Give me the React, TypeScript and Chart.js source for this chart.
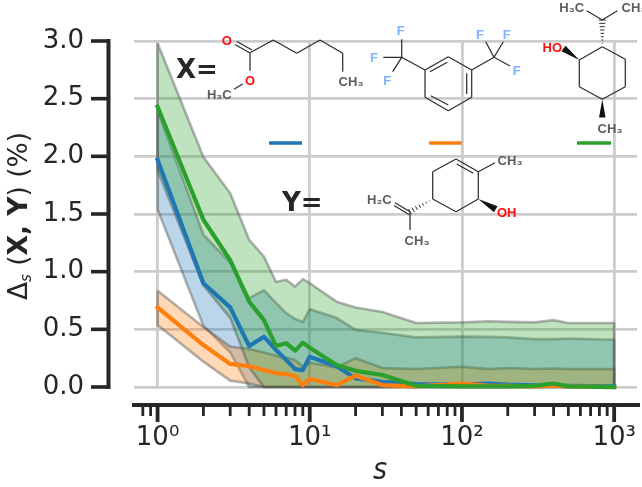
import React, { useEffect, useRef } from "react";
import { Chart, registerables } from "chart.js";

Chart.register(...registerables);

const sizes = [1, 2, 3, 4, 5, 6, 7, 8, 9, 10, 15, 20, 30, 50, 100, 150, 200, 300, 400, 500, 1000];
const blueMean = [1.97, 0.9, 0.69, 0.355, 0.436, 0.32, 0.235, 0.155, 0.147, 0.263, 0.18, 0.075, 0.045, 0.025, 0.02, 0.03, 0.02, 0.015, 0.01, 0.01, 0.005];
const blueUpper = [2.4, 1.32, 1.08, 0.77, 0.84, 0.73, 0.64, 0.59, 0.565, 0.675, 0.6, 0.495, 0.47, 0.43, 0.437, 0.435, 0.43, 0.415, 0.415, 0.42, 0.41];
const blueLower = [1.54, 0.53, 0.3, 0, 0, 0, 0, 0, 0, 0, 0, 0, 0, 0, 0, 0, 0, 0, 0, 0, 0];
const orangeMean = [0.69, 0.364, 0.2, 0.18, 0.147, 0.12, 0.11, 0.095, 0.017, 0.07, 0.017, 0.098, 0.017, 0.005, 0.03, 0.01, 0.01, 0.005, 0.012, 0.005, 0];
const orangeUpper = [0.835, 0.52, 0.35, 0.33, 0.3, 0.27, 0.255, 0.235, 0.176, 0.21, 0.17, 0.25, 0.164, 0.156, 0.176, 0.155, 0.165, 0.156, 0.16, 0.155, 0.155];
const orangeLower = [0.537, 0.22, 0.055, 0.03, 0, 0, 0, 0, 0, 0, 0, 0, 0, 0, 0, 0, 0, 0, 0, 0, 0];
const greenMean = [2.43, 1.45, 1.1, 0.74, 0.58, 0.355, 0.38, 0.315, 0.385, 0.34, 0.19, 0.14, 0.104, 0.01, 0.005, 0.005, 0.005, 0.01, 0.03, 0.005, 0];
const greenUpper = [2.98, 1.995, 1.68, 1.275, 1.13, 0.91, 0.93, 0.87, 0.935, 0.9, 0.74, 0.69, 0.65, 0.555, 0.56, 0.57, 0.565, 0.56, 0.58, 0.555, 0.555];
const greenLower = [1.88, 0.88, 0.6, 0.17, 0, 0, 0, 0, 0, 0, 0, 0, 0, 0, 0, 0, 0, 0, 0, 0, 0];

const xMajorTicks = [1, 10, 100, 1000];
const xMajorLabels = ["10⁰", "10¹", "10²", "10³"];
const xMinorTicks = [0.8, 0.9, 2, 3, 4, 5, 6, 7, 8, 9, 20, 30, 40, 50, 60, 70, 80, 90, 200, 300, 400, 500, 600, 700, 800, 900];

const TEXT = "#262626";
const SANS = '"DejaVu Sans"';
const COND = '"DejaVu Sans Condensed", "DejaVu Sans"';
const GRAY = "#5c5c5c";
const RED = "#ff0d0d";
const FBLUE = "#80b3ff";

const pts = (ys: number[]) => ys.map((y, i) => ({ x: sizes[i], y }));

function band(upper: number[], lower: number[], color: string, order: number) {
  const base = { pointRadius: 0, borderWidth: 0, tension: 0, clip: false as const };
  const outline = [...pts(upper), ...pts(lower).reverse(), { x: sizes[0], y: upper[0] }];
  return [
    { ...base, label: "upper", data: pts(upper), fill: "+1", backgroundColor: color, order },
    { ...base, label: "lower", data: pts(lower), fill: false, order },
    {
      ...base,
      label: "edge",
      data: outline,
      fill: false,
      borderWidth: 2.6,
      borderColor: "rgba(70,70,70,0.4)",
      borderJoinStyle: "round" as const,
      order: order - 1,
    },
  ];
}

function meanLine(values: number[], color: string, order: number) {
  return {
    label: "mean",
    data: pts(values),
    borderColor: color,
    borderWidth: 4.2,
    pointRadius: 0,
    tension: 0,
    fill: false,
    clip: false as const,
    borderCapStyle: "square" as const,
    borderJoinStyle: "round" as const,
    order,
  };
}

type Seg = [number, number, number, number];

// Structure drawings: coordinates are given in page pixels.
function bonds(ctx: CanvasRenderingContext2D, segs: Seg[]) {
  ctx.strokeStyle = "#2e2e2e";
  ctx.lineWidth = 1.25;
  ctx.lineCap = "butt";
  ctx.beginPath();
  segs.forEach(([a, b, c, d]) => {
    ctx.moveTo(a, b);
    ctx.lineTo(c, d);
  });
  ctx.stroke();
}
function atom(ctx: CanvasRenderingContext2D, t: string, x: number, y: number, color: string) {
  ctx.fillStyle = color;
  ctx.font = `bold 13px "Liberation Sans"`;
  ctx.textAlign = "center";
  ctx.textBaseline = "middle";
  ctx.fillText(t, x, y);
}
function wedge(ctx: CanvasRenderingContext2D, a: number, b: number, c: number, d: number, w: number) {
  const l = Math.hypot(c - a, d - b);
  const nx = (-(d - b) / l) * w * 0.5;
  const ny = ((c - a) / l) * w * 0.5;
  ctx.fillStyle = "#111";
  ctx.beginPath();
  ctx.moveTo(a, b);
  ctx.lineTo(c + nx, d + ny);
  ctx.lineTo(c - nx, d - ny);
  ctx.closePath();
  ctx.fill();
}
function hash(ctx: CanvasRenderingContext2D, a: number, b: number, c: number, d: number, w: number, n: number) {
  const l = Math.hypot(c - a, d - b);
  const ux = -(d - b) / l;
  const uy = (c - a) / l;
  ctx.strokeStyle = "#2e2e2e";
  ctx.lineWidth = 1;
  ctx.beginPath();
  for (let i = 1; i <= n; i++) {
    const t = i / n;
    const x = a + (c - a) * t;
    const y = b + (d - b) * t;
    const h = (w * t) / 2;
    ctx.moveTo(x - ux * h, y - uy * h);
    ctx.lineTo(x + ux * h, y + uy * h);
  }
  ctx.stroke();
}

function drawMolecules(ctx: CanvasRenderingContext2D) {
  ctx.save();
  // Methyl hexanoate
  bonds(ctx, [
    [235, 44.5, 250, 53], [237, 41.5, 252, 50],
    [250, 52.7, 273.3, 40], [273.3, 40, 296.7, 53.3], [296.7, 53.3, 320, 40], [320, 40, 342.7, 53.3], [342.7, 53.3, 342.7, 71.7],
    [250, 52.7, 250, 70.7], [242.7, 84, 234, 89.3],
  ]);
  atom(ctx, "O", 226.7, 41.7, RED);
  atom(ctx, "O", 250, 81.7, RED);
  atom(ctx, "H₃C", 219.3, 95, GRAY);
  atom(ctx, "CH₃", 351, 82, GRAY);

  // 1,3-bis(trifluoromethyl)benzene
  bonds(ctx, [
    [448.3, 56.7, 471.7, 70], [471.7, 70, 471.7, 97.3], [471.7, 97.3, 448.3, 110.7], [448.3, 110.7, 425, 97.3], [425, 97.3, 425, 70], [425, 70, 448.3, 56.7],
    [430, 71.7, 447.3, 62.3], [466.7, 73.3, 466.7, 94], [430.7, 95.7, 448.3, 105],
    [425, 70, 401.7, 57.3], [401.7, 57.3, 401.7, 39.3], [401.7, 57.3, 383.3, 57.3], [401.7, 57.3, 392.7, 71.7],
    [471.7, 70, 494, 57.3], [494, 57.3, 485.7, 41.7], [494, 57.3, 503.3, 41.7], [494, 57.3, 510, 66],
  ]);
  atom(ctx, "F", 400.7, 31.7, FBLUE);
  atom(ctx, "F", 374, 58.3, FBLUE);
  atom(ctx, "F", 387.3, 81.7, FBLUE);
  atom(ctx, "F", 480, 35.7, FBLUE);
  atom(ctx, "F", 506.7, 35, FBLUE);
  atom(ctx, "F", 516.7, 71.7, FBLUE);

  // Menthol
  bonds(ctx, [
    [602.3, 46.7, 625.3, 59.3], [625.3, 59.3, 625.3, 86.7], [625.3, 86.7, 602.3, 99.3], [602.3, 99.3, 579.3, 86.7], [579.3, 86.7, 579.3, 60], [579.3, 60, 602.3, 46.7],
    [602.3, 20, 586.7, 10.7], [602.3, 20, 617.3, 10.7],
  ]);
  hash(ctx, 602.3, 46.7, 602.3, 20, 7, 8);
  wedge(ctx, 579.3, 60, 563.5, 48.5, 7);
  wedge(ctx, 602.3, 99.3, 602.3, 117.5, 6.5);
  atom(ctx, "HO", 552.3, 48.3, RED);
  atom(ctx, "H₃C", 571.7, 8.3, GRAY);
  atom(ctx, "CH₃", 634, 8.3, GRAY);
  atom(ctx, "CH₃", 610, 129, GRAY);

  // Carveol
  bonds(ctx, [
    [456, 159, 478.3, 171.7], [478.3, 171.7, 478.3, 199], [478.3, 199, 456, 211.7], [456, 211.7, 432.7, 199], [432.7, 199, 432.7, 171.7], [432.7, 171.7, 456, 159],
    [456.7, 164, 473.3, 173.3],
    [478.3, 171.7, 495, 162.7],
    [410, 211.7, 395, 202.7], [409, 214.5, 394, 205.5], [410, 211.7, 410, 230],
  ]);
  hash(ctx, 432.7, 199, 410, 211.7, 6, 7);
  wedge(ctx, 478.3, 199, 495.7, 209.3, 7);
  atom(ctx, "CH₃", 510, 161, GRAY);
  atom(ctx, "OH", 506.7, 213.3, RED);
  atom(ctx, "H₂C", 379.3, 200, GRAY);
  atom(ctx, "CH₃", 417, 241.7, GRAY);

  // X= and Y= captions
  ctx.fillStyle = TEXT;
  ctx.font = `bold 26px ${SANS}`;
  ctx.textAlign = "left";
  ctx.textBaseline = "alphabetic";
  ctx.fillText("X=", 176, 78);
  ctx.fillText("Y=", 282, 211);

  // Colour keys
  ctx.lineWidth = 3.4;
  ctx.lineCap = "butt";
  ([["#1f77b4", 269, 302], ["#ff7f0e", 429, 462], ["#2ca02c", 577, 611]] as [string, number, number][]).forEach(([c, a, b]) => {
    ctx.strokeStyle = c;
    ctx.beginPath();
    ctx.moveTo(a, 143);
    ctx.lineTo(b, 143);
    ctx.stroke();
  });
  ctx.restore();
}

function drawAxisTitles(ctx: CanvasRenderingContext2D) {
  const runs: [string, string, number][] = [
    ["Δ", `26.5px ${SANS}`, 0],
    ["s", `italic 15px ${SANS}`, 4],
    [" (", `26.5px ${SANS}`, 0],
    ["X, Y", `bold 26.5px ${SANS}`, 0],
    [") (%)", `26.5px ${SANS}`, 0],
  ];
  ctx.save();
  ctx.fillStyle = TEXT;
  ctx.textAlign = "left";
  ctx.textBaseline = "alphabetic";
  let total = 0;
  runs.forEach(([t, f]) => {
    ctx.font = f;
    total += ctx.measureText(t).width;
  });
  ctx.save();
  ctx.translate(27, 216);
  ctx.rotate(-Math.PI / 2);
  let x = -total / 2;
  runs.forEach(([t, f, dy]) => {
    ctx.font = f;
    ctx.fillText(t, x, dy);
    x += ctx.measureText(t).width;
  });
  ctx.restore();
  ctx.font = `italic 30px ${COND}`;
  ctx.textAlign = "center";
  ctx.fillText("s", 380, 479);
  ctx.restore();
}

const decorations = {
  id: "decorations",
  afterDraw(chart: any) {
    const ctx: CanvasRenderingContext2D = chart.ctx;
    const xs = chart.scales.x;
    const ys = chart.scales.y;
    ctx.save();
    ctx.strokeStyle = TEXT;
    ctx.lineCap = "butt";
    const spineX = 108.5;
    const spineY = 405;
    const line = (a: number, b: number, c: number, d: number, w: number) => {
      ctx.lineWidth = w;
      ctx.beginPath();
      ctx.moveTo(a, b);
      ctx.lineTo(c, d);
      ctx.stroke();
    };
    // y spine, trimmed to the tick range
    line(spineX, ys.getPixelForValue(3) - 2, spineX, ys.getPixelForValue(0) + 2, 4);
    ys.ticks.forEach((t: any) => {
      const p = ys.getPixelForValue(t.value);
      line(91, p, spineX, p, 3.6);
    });
    // x spine
    line(132, spineY, 640, spineY, 3.8);
    xMajorTicks.forEach((v) => {
      const p = xs.getPixelForValue(v);
      line(p, spineY, p, spineY + 17, 3.8);
    });
    xMinorTicks.forEach((v) => {
      const p = xs.getPixelForValue(v);
      line(p, spineY, p, spineY + 11, 2.8);
    });
    ctx.restore();
    drawMolecules(ctx);
    drawAxisTitles(ctx);
  },
};

export default function App() {
  const ref = useRef<HTMLCanvasElement>(null);
  useEffect(() => {
    document.body.style.margin = "0";
    const datasets: any[] = [
      ...band(blueUpper, blueLower, "rgba(31,119,180,0.3)", 60),
      ...band(orangeUpper, orangeLower, "rgba(255,127,14,0.3)", 50),
      ...band(greenUpper, greenLower, "rgba(44,160,44,0.3)", 40),
      meanLine(blueMean, "#1f77b4", 3),
      meanLine(orangeMean, "#ff7f0e", 2),
      meanLine(greenMean, "#2ca02c", 1),
    ];
    const chart = new Chart(ref.current!, {
      type: "line",
      data: { datasets },
      plugins: [decorations],
      options: {
        animation: false,
        responsive: false,
        devicePixelRatio: 1,
        parsing: false as any,
        normalized: false,
        layout: { padding: { top: 41, right: 5, left: 0, bottom: 0 } },
        plugins: { legend: { display: false }, tooltip: { enabled: false } },
        scales: {
          x: {
            type: "logarithmic",
            min: 0.708,
            max: 1413,
            afterBuildTicks(scale: any) {
              scale.ticks = [...xMinorTicks, ...xMajorTicks].sort((a, b) => a - b).map((value) => ({ value }));
            },
            afterFit(scale: any) {
              scale.height = 100;
              scale.paddingLeft = 0;
              scale.paddingRight = 0;
            },
            border: { display: false },
            grid: {
              drawTicks: false,
              lineWidth: 2.8,
              color: (c: any) => (c.tick && xMajorTicks.includes(c.tick.value) ? "#cccccc" : "rgba(0,0,0,0)"),
            },
            ticks: {
              autoSkip: false,
              maxRotation: 0,
              padding: 36,
              color: TEXT,
              font: { family: "DejaVu Sans", size: 26 },
              callback: (v: any) => {
                const i = xMajorTicks.indexOf(Number(v));
                return i >= 0 ? xMajorLabels[i] : "";
              },
            },
          },
          y: {
            type: "linear",
            min: 0,
            max: 3,
            afterFit(scale: any) {
              scale.width = 134;
              scale.paddingTop = 0;
              scale.paddingBottom = 0;
            },
            border: { display: false },
            grid: { drawTicks: false, lineWidth: 2.8, color: "#cccccc" },
            ticks: {
              stepSize: 0.5,
              padding: 50,
              color: TEXT,
              font: { family: "DejaVu Sans", size: 26 },
              callback: (v: any) => Number(v).toFixed(1),
            },
          },
        },
      },
    } as any);
    return () => chart.destroy();
  }, []);
  return <canvas ref={ref} width={642} height={487} style={{ display: "block" }} />;
}
